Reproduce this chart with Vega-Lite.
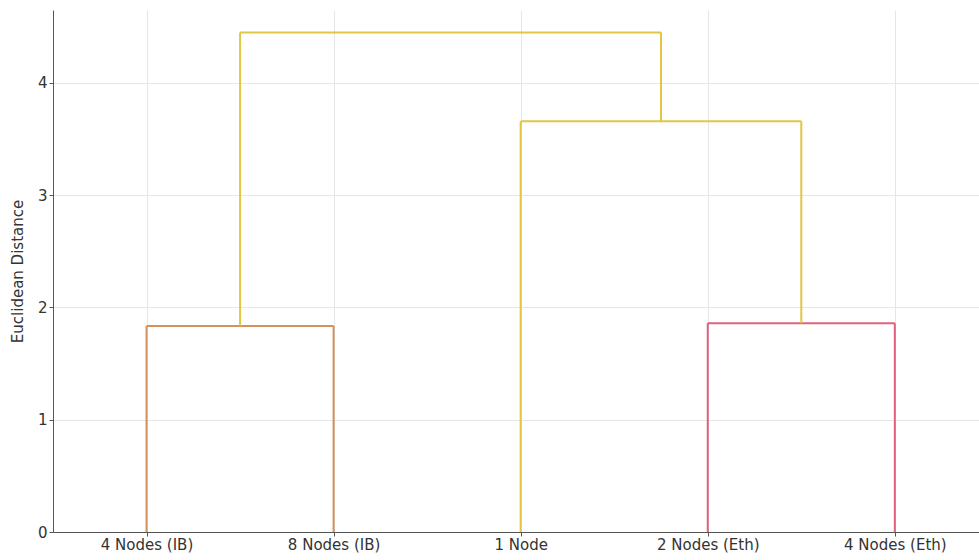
{
  "$schema": "https://vega.github.io/schema/vega-lite/v6.json",
  "width": 926,
  "height": 522,
  "autosize": {"type": "none"},
  "padding": {"left": 53, "top": 10, "right": 0, "bottom": 28},
  "background": "white",
  "config": {
    "view": {"stroke": null},
    "axis": {"labelFont": "DejaVu Sans", "titleFont": "DejaVu Sans", "labelFontSize": 15, "titleFontSize": 15, "labelColor": "#333", "titleColor": "#333", "titleFontWeight": "normal", "gridColor": "#e6e6e6", "gridWidth": 1, "domainColor": "#555", "tickColor": "#555", "tickSize": 4}
  },
  "data": {"values": [
    {"x": 5, "x2": 5, "y": 0, "y2": 1.835, "c": "ib"},
    {"x": 5, "x2": 15, "y": 1.835, "y2": 1.835, "c": "ib"},
    {"x": 15, "x2": 15, "y": 0, "y2": 1.835, "c": "ib"},
    {"x": 35, "x2": 35, "y": 0, "y2": 1.86, "c": "eth"},
    {"x": 35, "x2": 45, "y": 1.86, "y2": 1.86, "c": "eth"},
    {"x": 45, "x2": 45, "y": 0, "y2": 1.86, "c": "eth"},
    {"x": 25, "x2": 25, "y": 0, "y2": 3.66, "c": "top"},
    {"x": 25, "x2": 40, "y": 3.66, "y2": 3.66, "c": "top"},
    {"x": 40, "x2": 40, "y": 1.86, "y2": 3.66, "c": "top"},
    {"x": 10, "x2": 10, "y": 1.835, "y2": 4.45, "c": "top"},
    {"x": 10, "x2": 32.5, "y": 4.45, "y2": 4.45, "c": "top"},
    {"x": 32.5, "x2": 32.5, "y": 3.66, "y2": 4.45, "c": "top"}
  ]},
  "mark": {"type": "rule", "strokeWidth": 2},
  "encoding": {
    "x": {"field": "x", "type": "quantitative", "scale": {"domain": [0, 49.5], "nice": false, "zero": false},
      "axis": {"values": [5, 15, 25, 35, 45], "title": null, "labelExpr": "datum.value == 5 ? '4 Nodes (IB)' : datum.value == 15 ? '8 Nodes (IB)' : datum.value == 25 ? '1 Node' : datum.value == 35 ? '2 Nodes (Eth)' : '4 Nodes (Eth)'", "labelPadding": 1}},
    "x2": {"field": "x2"},
    "y": {"field": "y", "type": "quantitative", "scale": {"domain": [0, 4.65], "nice": false},
      "axis": {"values": [0, 1, 2, 3, 4], "title": "Euclidean Distance", "titlePadding": 12, "labelPadding": 2}},
    "y2": {"field": "y2"},
    "color": {"field": "c", "type": "nominal", "legend": null,
      "scale": {"domain": ["ib", "eth", "top"], "range": ["#d4915a", "#e0607e", "#e3c545"]}}
  }
}
